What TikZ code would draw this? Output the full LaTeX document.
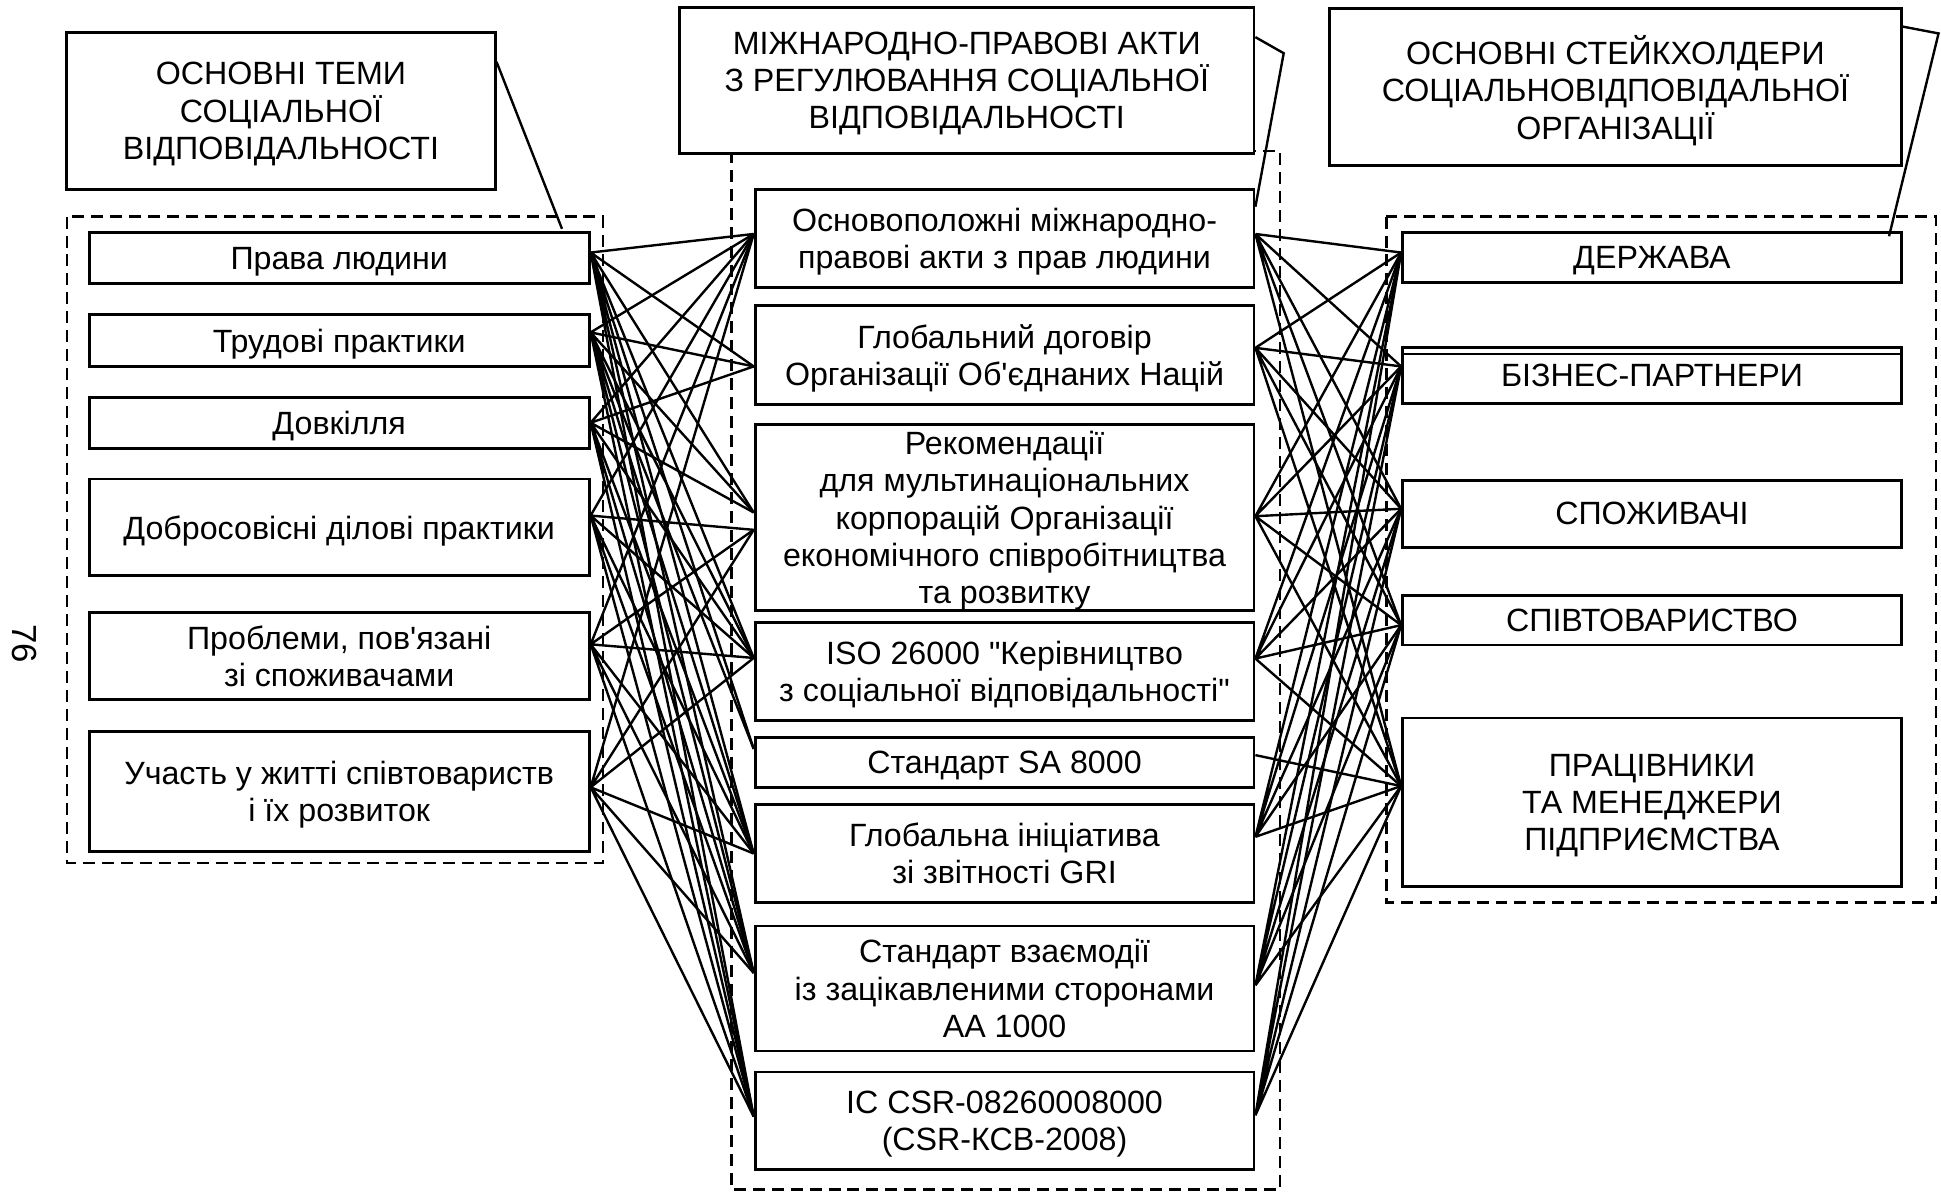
\documentclass[tikz,border=0pt]{standalone}
\usepackage{fontspec}
\setmainfont{Liberation Sans}[Ligatures=TeXOff]

\begin{document}
\begin{tikzpicture}[bx/.style={draw,line width=1.3pt,fill=white,align=center,inner sep=0pt,text depth=-0.5pt,font=\fontsize{14.8}{17.1}\selectfont},
  grp/.style={line width=1.1pt,dash pattern=on 5.5pt off 3.2pt},
  ln/.style={line width=1.1pt}]
\useasboundingbox (0,0) rectangle (31.36,-19.28);
% dashed groups
\draw[grp] (1.08,-3.50) rectangle (9.74,-13.94);
\draw[grp] (11.82,-2.44) rectangle (20.68,-19.22);
\draw[grp] (22.40,-3.50) rectangle (31.28,-14.58);
% headers
\node[bx,minimum width=6.92cm,minimum height=2.54cm] (t1) at (4.54,-1.79) {ОСНОВНІ ТЕМИ\\СОЦІАЛЬНОЇ\\ВІДПОВІДАЛЬНОСТІ};
\node[bx,minimum width=9.28cm,minimum height=2.36cm] (t2) at (15.62,-1.30) {МІЖНАРОДНО-ПРАВОВІ АКТИ\\З РЕГУЛЮВАННЯ СОЦІАЛЬНОЇ\\ВІДПОВІДАЛЬНОСТІ};
\node[bx,minimum width=9.24cm,minimum height=2.54cm] (t3) at (26.10,-1.41) {ОСНОВНІ СТЕЙКХОЛДЕРИ\\СОЦІАЛЬНОВІДПОВІДАЛЬНОЇ\\ОРГАНІЗАЦІЇ};
% themes
\node[bx,minimum width=8.08cm,minimum height=0.82cm] (l1) at (5.48,-4.17) {Права людини};
\node[bx,minimum width=8.08cm,minimum height=0.84cm] (l2) at (5.48,-5.50) {Трудові практики};
\node[bx,minimum width=8.08cm,minimum height=0.82cm] (l3) at (5.48,-6.83) {Довкілля};
\node[bx,minimum width=8.08cm,minimum height=1.56cm] (l4) at (5.48,-8.52) {Добросовісні ділові практики};
\node[bx,minimum width=8.08cm,minimum height=1.40cm] (l5) at (5.48,-10.60) {Проблеми, пов'язані\\зі споживачами};
\node[bx,minimum width=8.08cm,minimum height=1.94cm] (l6) at (5.48,-12.79) {Участь у житті співтовариств\\і їх розвиток};
% acts
\node[bx,minimum width=8.06cm,minimum height=1.58cm] (m1) at (16.23,-3.85) {Основоположні міжнародно-\\правові акти з прав людини};
\node[bx,minimum width=8.06cm,minimum height=1.60cm] (m2) at (16.23,-5.74) {Глобальний договір\\Організації Об'єднаних Націй};
\node[bx,minimum width=8.06cm,minimum height=3.00cm] (m3) at (16.23,-8.36) {Рекомендації\\для мультинаціональних\\корпорацій Організації\\економічного співробітництва\\та розвитку};
\node[bx,minimum width=8.06cm,minimum height=1.58cm] (m4) at (16.23,-10.85) {ISO 26000 "Керівництво\\з соціальної відповідальності"};
\node[bx,minimum width=8.06cm,minimum height=0.80cm] (m5) at (16.23,-12.32) {Стандарт SA 8000};
\node[bx,minimum width=8.06cm,minimum height=1.58cm] (m6) at (16.23,-13.79) {Глобальна ініціатива\\зі звітності GRI};
\node[bx,minimum width=8.06cm,minimum height=2.02cm] (m7) at (16.23,-15.97) {Стандарт взаємодії\\із зацікавленими сторонами\\AA 1000};
\node[bx,minimum width=8.06cm,minimum height=1.58cm] (m8) at (16.23,-18.11) {IC CSR-08260008000\\(CSR-КСВ-2008)};
% stakeholders
\node[bx,minimum width=8.06cm,minimum height=0.80cm] (r1) at (26.69,-4.16) {ДЕРЖАВА};
\node[bx,minimum width=8.06cm,minimum height=0.90cm] (r2) at (26.69,-6.07) {БІЗНЕС-ПАРТНЕРИ};
\node[bx,minimum width=8.06cm,minimum height=1.08cm] (r3) at (26.69,-8.30) {СПОЖИВАЧІ};
\node[bx,minimum width=8.06cm,minimum height=0.80cm] (r4) at (26.69,-10.02) {СПІВТОВАРИСТВО};
\node[bx,minimum width=8.06cm,minimum height=2.72cm] (r5) at (26.69,-12.96) {ПРАЦІВНИКИ\\ТА МЕНЕДЖЕРИ\\ПІДПРИЄМСТВА};
\draw[line width=0.6pt] ([yshift=-0.12cm]r2.north west) -- ([yshift=-0.12cm]r2.north east);
\node[rotate=-90,font=\fontsize{16}{18}\selectfont] (pg) at (0.40,-10.40) {76};

% ports
\coordinate (l1o) at ([yshift=0.09cm]l1.east);
\coordinate (l2o) at ([yshift=0.13cm]l2.east);
\coordinate (l3o) at (l3.east);
\coordinate (l4o) at ([yshift=0.19cm]l4.east);
\coordinate (l5o) at ([yshift=0.19cm]l5.east);
\coordinate (l6o) at ([yshift=0.07cm]l6.east);
\coordinate (m1i) at ([yshift=0.07cm]m1.west);
\coordinate (m2i) at ([yshift=-0.18cm]m2.west);
\coordinate (m3i) at ([yshift=0.08cm]m3.west);
\coordinate (m3j) at ([yshift=-0.20cm]m3.west);
\coordinate (m4i) at ([yshift=0.22cm]m4.west);
\coordinate (m5i) at ([yshift=0.22cm]m5.west);
\coordinate (m6i) at (m6.west);
\coordinate (m7i) at ([yshift=0.25cm]m7.west);
\coordinate (m8i) at ([yshift=0.07cm]m8.west);
\coordinate (m1o) at ([yshift=0.07cm]m1.east);
\coordinate (m2o) at ([yshift=0.12cm]m2.east);
\coordinate (m3o) at ([yshift=0.02cm]m3.east);
\coordinate (m4o) at ([yshift=0.21cm]m4.east);
\coordinate (m5o) at ([yshift=0.12cm]m5.east);
\coordinate (m6o) at ([yshift=0.27cm]m6.east);
\coordinate (m7o) at ([yshift=0.05cm]m7.east);
\coordinate (m8o) at ([yshift=0.09cm]m8.east);
\coordinate (r1i) at ([yshift=0.08cm]r1.west);
\coordinate (r2i) at ([yshift=0.15cm]r2.west);
\coordinate (r3i) at ([yshift=0.08cm]r3.west);
\coordinate (r4i) at ([yshift=-0.08cm]r4.west);
\coordinate (r5i) at ([yshift=0.26cm]r5.west);

% themes -> acts
\draw[ln] (l1o) -- (m1i) (l1o) -- (m2i) (l1o) -- (m3i) (l1o) -- (m4i) (l1o) -- (m5i) (l1o) -- (m6i) (l1o) -- (m7i) (l1o) -- (m8i);
\draw[ln] (l2o) -- (m1i) (l2o) -- (m2i) (l2o) -- (m3i) (l2o) -- (m4i) (l2o) -- (m5i) (l2o) -- (m6i) (l2o) -- (m7i) (l2o) -- (m8i);
\draw[ln] (l3o) -- (m1i) (l3o) -- (m2i) (l3o) -- (m3i) (l3o) -- (m4i) (l3o) -- (m6i) (l3o) -- (m7i) (l3o) -- (m8i);
\draw[ln] (l4o) -- (m1i) (l4o) -- (m3j) (l4o) -- (m4i) (l4o) -- (m6i) (l4o) -- (m7i) (l4o) -- (m8i);
\draw[ln] (l5o) -- (m1i) (l5o) -- (m3j) (l5o) -- (m4i) (l5o) -- (m6i) (l5o) -- (m7i) (l5o) -- (m8i);
\draw[ln] (l6o) -- (m1i) (l6o) -- (m3j) (l6o) -- (m4i) (l6o) -- (m6i) (l6o) -- (m7i) (l6o) -- (m8i);
% acts -> stakeholders
\draw[ln] (m1o) -- (r1i) (m1o) -- (r2i) (m1o) -- (r3i) (m1o) -- (r4i) (m1o) -- (r5i);
\draw[ln] (m2o) -- (r1i) (m2o) -- (r2i) (m2o) -- (r3i) (m2o) -- (r4i) (m2o) -- (r5i);
\draw[ln] (m3o) -- (r1i) (m3o) -- (r2i) (m3o) -- (r3i) (m3o) -- (r4i) (m3o) -- (r5i);
\draw[ln] (m4o) -- (r1i) (m4o) -- (r2i) (m4o) -- (r3i) (m4o) -- (r4i) (m4o) -- (r5i);
\draw[ln] (m5o) -- (r5i);
\draw[ln] (m6o) -- (r1i) (m6o) -- (r2i) (m6o) -- (r3i) (m6o) -- (r4i) (m6o) -- (r5i);
\draw[ln] (m7o) -- (r1i) (m7o) -- (r2i) (m7o) -- (r3i) (m7o) -- (r4i) (m7o) -- (r5i);
\draw[ln] (m8o) -- (r1i) (m8o) -- (r2i) (m8o) -- (r3i) (m8o) -- (r4i) (m8o) -- (r5i);

% leaders
\coordinate (t2k) at (20.74,-0.86);
\coordinate (t3k) at (31.32,-0.54);
\draw[ln] ([yshift=0.79cm]t1.east) -- ([xshift=3.6cm,yshift=0.04cm]l1.north);
\draw[ln] ([yshift=0.70cm]t2.east) -- (t2k) -- ([yshift=0.51cm]m1.east);
\draw[ln] ([yshift=0.98cm]t3.east) -- (t3k) -- ([xshift=3.83cm,yshift=-0.08cm]r1.north);
\end{tikzpicture}
\end{document}
